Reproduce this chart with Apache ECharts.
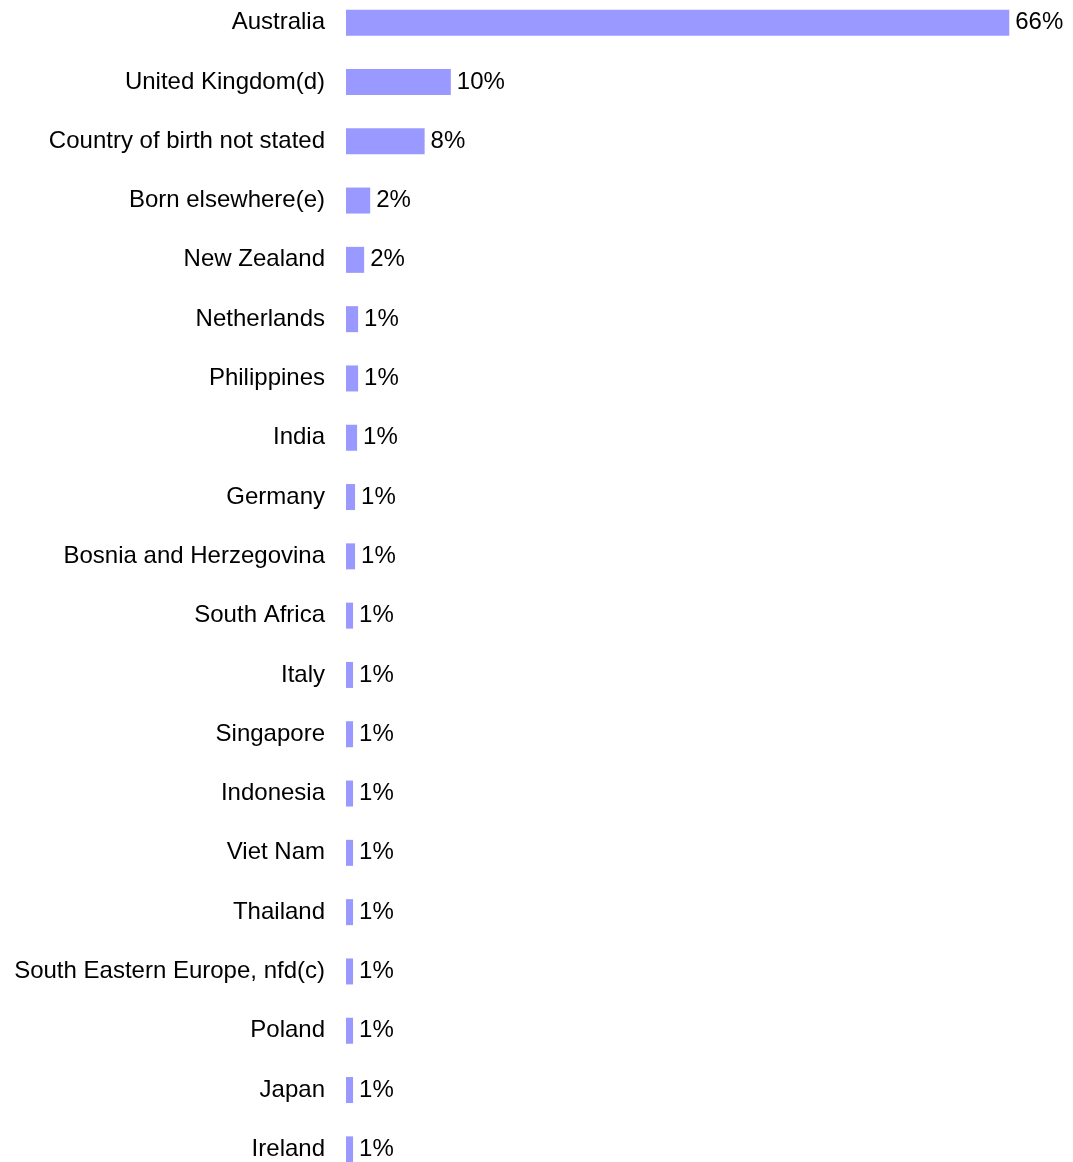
<!DOCTYPE html>
<html>
<head>
<meta charset="utf-8">
<script src="https://cdn.jsdelivr.net/npm/echarts@6/dist/echarts.min.js"></script>
<style>
html,body{margin:0;padding:0;background:#fff;}
#chart{width:1073px;height:1162px;}
</style>
</head>
<body>
<div id="chart"></div>
<script>
const categories = [
  "Australia","United Kingdom(d)","Country of birth not stated","Born elsewhere(e)","New Zealand",
  "Netherlands","Philippines","India","Germany","Bosnia and Herzegovina",
  "South Africa","Italy","Singapore","Indonesia","Viet Nam",
  "Thailand","South Eastern Europe, nfd(c)","Poland","Japan","Ireland"
];
const values = [
  65.8, 10.4, 7.8, 2.4, 1.8,
  1.2, 1.2, 1.1, 0.9, 0.9,
  0.7, 0.7, 0.7, 0.7, 0.7,
  0.7, 0.7, 0.7, 0.7, 0.7
];
const xMax = 70;

const chart = echarts.init(document.getElementById('chart'), null, {renderer:'canvas'});
const font = '"Liberation Sans", Arial, sans-serif';
chart.setOption({
  animation:false,
  grid:{left:346, top:-7, width:705.6, height:1186, containLabel:false, outerBoundsMode:'none'},
  xAxis:{type:'value', min:0, max:xMax, show:false},
  yAxis:{
    type:'category', data:categories, inverse:true,
    axisLine:{show:false}, axisTick:{show:false}, splitLine:{show:false},
    axisLabel:{color:'#000', fontSize:24, fontFamily:font, margin:21}
  },
  series:[{
    type:'bar', data:values, barWidth:26,
    itemStyle:{color:'#9999FF'},
    label:{show:true, position:'right', distance:6, color:'#000', fontSize:24, fontFamily:font,
      formatter:p => Math.round(p.value) + '%'}
  }]
});
</script>
</body>
</html>
